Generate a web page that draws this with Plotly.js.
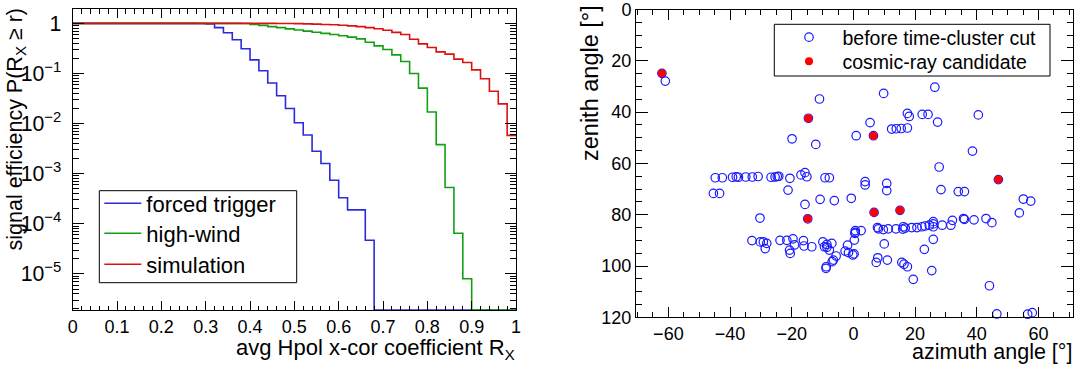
<!DOCTYPE html>
<html><head><meta charset="utf-8">
<script src="https://cdn.plot.ly/plotly-3.0.1.min.js"></script>
<style>html,body{margin:0;padding:0;background:#fff}#chart{width:1080px;height:365px}</style>
</head><body><div id="chart"></div>
<script>
// ---------- left panel: cumulative signal efficiency histograms ----------
const binEdges = [0,0.02,0.04,0.06,0.08,0.10,0.12,0.14,0.16,0.18,0.20,0.22,0.24,0.26,0.28,0.30,0.32,0.34,0.36,0.38,0.40,0.42,0.44,0.46,0.48,0.50,0.52,0.54,0.56,0.58,0.60,0.62,0.64,0.66,0.68,0.70,0.72,0.74,0.76,0.78,0.80,0.82,0.84,0.86,0.88,0.90,0.92,0.94,0.96,0.98,1.00];
const forcedTrigger = [1,1,1,1,1,1,1,1,1,1,1,1,1,1,0.995,0.97,0.82,0.65,0.47,0.31,0.187,0.113,0.0645,0.036,0.020,0.0104,0.0059,0.0028,0.0016,0.00074,0.00033,0.00019,0.00019,0.000047,0,0,0,0,0,0,0,0,0,0,0,0,0,0,0,0];
const highWind = [1,1,1,1,1,1,1,1,1,1,1,1,1,1,1,1,1,1,1,0.99,0.955,0.91,0.86,0.82,0.775,0.735,0.70,0.665,0.63,0.60,0.565,0.53,0.49,0.42,0.355,0.30,0.235,0.173,0.10,0.051,0.017,0.0038,0.00053,0.000065,0.000008,0,0,0,0,0];
const simulation = [1,1,1,1,1,1,1,1,1,1,1,1,1,1,1,1,1,1,1,1,1,1,1,0.995,0.99,0.985,0.975,0.965,0.95,0.935,0.915,0.89,0.86,0.82,0.78,0.73,0.66,0.60,0.48,0.39,0.33,0.27,0.243,0.193,0.165,0.118,0.0785,0.044,0.0247,0.0058];
const histNames = ["forced trigger","high-wind","simulation"];
const histColors = ["#2b2bdc","#12a012","#dd1010"];

// ---------- right panel: arrival directions ----------
const azimuthBefore = [-62.1,-61.0,-14.6,-11.0,9.8,26.4,5.4,17.5,18.1,22.3,24.2,27.3,40.5,12.4,13.9,15.5,17.5,0.9,6.5,-19.9,-12.2,38.6,27.8,
-44.8,-42.5,-39.2,-38.0,-37.3,-34.9,-32.8,-30.9,-26.7,-25.4,-24.7,-24.2,-20.6,-17.0,-15.7,-15.1,-9.2,-7.8,
-45.4,-43.4,-21.2,-15.7,-10.8,-6.2,-0.7,3.8,3.8,10.8,10.8,28.4,34.0,36.0,47.0,55.1,57.5,53.8,
-30.3,-14.8,6.7,15.1,43.0,44.9,36.0,35.7,39.1,32.1,31.6,28.8,25.9,25.9,25.9,24.6,23.2,22.2,20.6,18.9,16.8,16.0,16.2,13.8,11.3,9.7,8.1,7.8,2.5,0.6,0.6,
-32.9,-30.2,-29.2,-28.1,-23.8,-21.6,-19.6,-16.2,-9.9,-8.6,-7.0,-28.6,-20.7,-20.5,-19.1,-16.0,-13.5,-9.4,-8.6,-7.8,-6.5,-6.9,-5.6,-8.9,-8.8,-2.7,-1.6,-0.2,0.2,-1.9,0.3,0.5,
7.4,7.9,10.0,11.0,15.7,16.4,17.5,19.4,23.0,25.9,25.4,44.1,46.5,56.5,58.0];
const zenithBefore = [24.9,27.9,42.4,34.9,32.7,30.3,44.1,40.5,41.7,40.9,40.9,43.9,41.1,46.6,46.5,46.4,46.2,49.2,49.2,50.4,52.6,55.2,61.4,
65.6,65.6,65.4,65.2,65.4,65.3,65.3,65.1,65.4,65.3,65.1,65.0,65.8,64.5,63.6,65.2,65.6,65.6,
71.7,71.7,70.4,76.0,74.0,74.5,73.6,67.1,68.4,67.8,70.6,70.2,71.0,71.0,66.3,73.9,74.7,79.3,
81.3,81.6,79.1,78.3,81.5,83.1,81.8,81.5,82.0,82.2,84.1,84.1,82.7,83.6,84.7,84.1,84.4,84.7,85.0,85.0,85.2,85.6,84.7,85.5,85.5,85.8,85.5,85.0,86.2,86.9,86.2,
90.1,90.6,90.6,91.2,90.0,90.0,89.4,90.1,90.6,91.6,91.2,93.2,93.8,95.1,91.8,92.2,92.5,92.5,92.7,93.8,97.7,98.3,96.1,100.9,100.3,94.2,94.8,95.7,95.3,91.9,89.9,87.3,
98.6,96.8,91.4,97.7,98.6,99.3,100.3,105.2,93.5,89.6,101.8,107.7,118.7,118.8,118.2];
const azimuthCosmic = [-62.1,-14.6,6.5,-14.8,6.7,15.1,47.0];
const zenithCosmic = [24.9,42.4,49.2,81.6,79.1,78.3,66.3];
const scatterNames = ["before time-cluster cut","cosmic-ray candidate"];
const zenithTicks = [0,20,40,60,80,100,120];
const zenithTickText = ["0","20","40","60","80","100","120"];

// ---------- layout constants ----------
const W = 1080, H = 365;
const leftLogRange = [-5.72, 0.28];
const FONT = "Liberation Sans, Arial, Helvetica, sans-serif";
const px = v => v / W;          // pixel -> paper x
const py = v => 1 - v / H;      // pixel -> paper y
const histLegends = ['legend','legend4','legend5'];

function stepTrace(vals, name, color, leg){
  const floor = Math.pow(10, leftLogRange[0]);
  const xs = [], ys = [];
  for (let i = 0; i < vals.length; i++){
    xs.push(binEdges[i]);
    ys.push(vals[i] > 0 ? vals[i] : floor);
  }
  xs.push(binEdges[vals.length]);
  ys.push(vals[vals.length-1] > 0 ? vals[vals.length-1] : floor);
  return {x: xs, y: ys, type:'scatter', mode:'lines', name: name,
          line:{shape:'hv', color: color, width:1.6}, xaxis:'x', yaxis:'y', legend:leg, cliponaxis:true};
}

const traces = [
  stepTrace(forcedTrigger, histNames[0], histColors[0], histLegends[0]),
  stepTrace(highWind, histNames[1], histColors[1], histLegends[1]),
  stepTrace(simulation, histNames[2], histColors[2], histLegends[2]),
  {x: azimuthBefore, y: zenithBefore, type:'scatter', mode:'markers', name: scatterNames[0],
   marker:{symbol:'circle-open', size:8.5, color:'#1a1aff', line:{width:1.2, color:'#1a1aff'}},
   xaxis:'x2', yaxis:'y2', legend:'legend2', cliponaxis:false},
  {x: azimuthCosmic, y: zenithCosmic, type:'scatter', mode:'markers', name: scatterNames[1],
   marker:{symbol:'circle', size:8, color:'#ff0000'},
   xaxis:'x2', yaxis:'y2', legend:'legend3', cliponaxis:false}
];

const axBase = {showline:true, linecolor:'#000', linewidth:1, mirror:'allticks', showgrid:false, zeroline:false,
  ticks:'inside', tickcolor:'#000', tickwidth:1, tickfont:{size:18, color:'#000', family:FONT}};

const legBase = {xanchor:'left', yanchor:'top', bgcolor:'rgba(0,0,0,0)', borderwidth:0, tracegroupgap:0};
const leftLegFont = {size:22, family:FONT, color:'#000'};
const rightLegFont = {size:19.5, family:FONT, color:'#000'};

const layout = {
  width: W, height: H, margin:{l:0,r:0,t:0,b:0}, paper_bgcolor:'#fff', plot_bgcolor:'#fff',
  font:{family:FONT, color:'#000'},
  xaxis: Object.assign({}, axBase, {domain:[px(72.7), px(516)], range:[0,1], tick0:0, dtick:0.1, ticklen:9,
     minor:{dtick:0.02, tick0:0, ticks:'inside', ticklen:4.5, tickcolor:'#000', showgrid:false}, anchor:'y'}),
  yaxis: Object.assign({}, axBase, {type:'log', domain:[py(310), py(9.3)], range:leftLogRange, dtick:1,
     exponentformat:'power', ticklen:11, ticklabelstandoff:7, tickfont:{size:17, color:'#000', family:FONT},
     minor:{dtick:'D1', ticks:'inside', ticklen:6, tickcolor:'#000', showgrid:false}, anchor:'x'}),
  xaxis2: Object.assign({}, axBase, {domain:[px(636), px(1073.3)], range:[-70.5, 71.3], tick0:0, dtick:20, ticklen:10,
     minor:{dtick:5, tick0:0, ticks:'inside', ticklen:5, tickcolor:'#000', showgrid:false}, anchor:'y2'}),
  yaxis2: Object.assign({}, axBase, {domain:[py(317.3), py(9.5)], range:[120, 0], tickmode:'array',
     tickvals:zenithTicks, ticktext:zenithTickText, ticklen:12, ticklabeloverflow:'allow',
     minor:{tickmode:'linear', dtick:5, tick0:0, ticks:'inside', ticklen:6, tickcolor:'#000', showgrid:false}, anchor:'x2'}),
  legend: Object.assign({}, legBase, {x:px(99.3), y:py(182.5), itemwidth:37, font:leftLegFont}),
  legend4: Object.assign({}, legBase, {x:px(99.3), y:py(212.5), itemwidth:37, font:leftLegFont}),
  legend5: Object.assign({}, legBase, {x:px(99.3), y:py(243.5), itemwidth:37, font:leftLegFont}),
  legend2: Object.assign({}, legBase, {x:px(775.5), y:py(18), itemwidth:57, font:rightLegFont}),
  legend3: Object.assign({}, legBase, {x:px(775.5), y:py(42), itemwidth:57, font:rightLegFont}),
  showlegend: true,
  shapes: [
    {type:'rect', xref:'paper', yref:'paper', x0:px(99.3), x1:px(296.7), y0:py(282.7), y1:py(190.7),
     line:{color:'#000', width:1}, fillcolor:'#fff', layer:'above'},
    {type:'rect', xref:'paper', yref:'paper', x0:px(774.3), x1:px(1050), y0:py(76), y1:py(24.3),
     line:{color:'#000', width:1}, fillcolor:'#fff', layer:'above'}
  ],
  annotations: [
    {text:'signal efficiency P(R<sub>X</sub> ≥ r)', textangle:-90, xref:'paper', yref:'paper',
     x:px(16), y:py(6), xanchor:'center', yanchor:'top', showarrow:false, font:{size:21.5, family:FONT, color:'#000'}},
    {text:'avg Hpol x-cor coefficient R<sub>X</sub>', xref:'paper', yref:'paper',
     x:px(517), y:py(333), xanchor:'right', yanchor:'top', showarrow:false, font:{size:22, family:FONT, color:'#000'}},
    {text:'zenith angle [°]', textangle:-90, xref:'paper', yref:'paper',
     x:px(590), y:py(3), xanchor:'center', yanchor:'top', showarrow:false, font:{size:23.5, family:FONT, color:'#000'}},
    {text:'azimuth angle [°]', xref:'paper', yref:'paper',
     x:px(1074), y:py(338), xanchor:'right', yanchor:'top', showarrow:false, font:{size:21.5, family:FONT, color:'#000'}}
  ]
};

Plotly.newPlot('chart', traces, layout, {staticPlot:true, displayModeBar:false});
</script>
</body></html>
